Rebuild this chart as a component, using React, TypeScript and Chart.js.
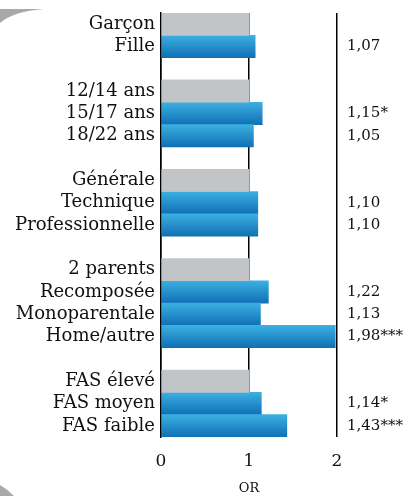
import React, { useEffect, useRef } from "react";
import { Chart, registerables } from "chart.js";

Chart.register(...registerables);

const categories = [
  "Garçon", "Fille", "",
  "12/14 ans", "15/17 ans", "18/22 ans", "",
  "Générale", "Technique", "Professionnelle", "",
  "2 parents", "Recomposée", "Monoparentale", "Home/autre", "",
  "FAS élevé", "FAS moyen", "FAS faible",
];

const referenceValues = [
  1, null, null,
  1, null, null, null,
  1, null, null, null,
  1, null, null, null, null,
  1, null, null,
];

const oddsValues = [
  null, 1.07, null,
  null, 1.15, 1.05, null,
  null, 1.1, 1.1, null,
  null, 1.22, 1.13, 1.98, null,
  null, 1.14, 1.43,
];

const valueLabels = [
  "", "1,07", "",
  "", "1,15*", "1,05", "",
  "", "1,10", "1,10", "",
  "", "1,22", "1,13", "1,98***", "",
  "", "1,14*", "1,43***",
];

const xTicks = [0, 1, 2];

const SERIF = "'DejaVu Serif', 'Liberation Serif', serif";

export default function App() {
  const ref = useRef<HTMLCanvasElement | null>(null);

  useEffect(() => {
    const canvas = ref.current;
    if (!canvas) return;

    const decoPlugin = {
      id: "deco",
      beforeDraw(chart: any) {
        const ctx = chart.ctx;
        ctx.save();
        ctx.fillStyle = "#a9a9a5";
        ctx.beginPath();
        ctx.moveTo(0, 9);
        ctx.lineTo(44, 9);
        ctx.quadraticCurveTo(14, 11, 0, 23);
        ctx.closePath();
        ctx.fill();
        ctx.beginPath();
        ctx.moveTo(0, 485);
        ctx.quadraticCurveTo(7, 489, 14, 496);
        ctx.lineTo(0, 496);
        ctx.closePath();
        ctx.fill();
        ctx.restore();
      },
    };

    const blueGradient = (context: any) => {
      const chart = context.chart;
      const y = chart.scales?.y;
      if (!y || context.dataIndex === undefined) return "#2a93d2";
      const c = y.getPixelForValue(context.dataIndex);
      const h = y.height / categories.length;
      if (!isFinite(c) || !isFinite(h) || h <= 0) return "#2a93d2";
      const g = chart.ctx.createLinearGradient(0, c - h / 2, 0, c + h / 2);
      g.addColorStop(0, "#3cb0e2");
      g.addColorStop(1, "#1070b4");
      return g;
    };

    const noVerticalPadding = (scale: any, w: number) => {
      scale.width = w;
      scale.paddingTop = 0;
      scale.paddingBottom = 0;
    };

    const chart = new Chart(canvas, {
      type: "bar",
      data: {
        labels: categories,
        datasets: [
          {
            data: referenceValues as any,
            backgroundColor: "#c2c5c7",
            barPercentage: 1,
            categoryPercentage: 1,
            grouped: false,
            yAxisID: "y",
          },
          {
            data: oddsValues as any,
            backgroundColor: blueGradient as any,
            barPercentage: 1,
            categoryPercentage: 1,
            grouped: false,
            yAxisID: "y",
          },
        ],
      },
      options: {
        indexAxis: "y",
        animation: false,
        responsive: false,
        maintainAspectRatio: false,
        layout: { padding: { top: 13, left: 0, right: 0, bottom: 0 } },
        plugins: {
          legend: { display: false },
          tooltip: { enabled: false },
        },
        scales: {
          x: {
            type: "linear",
            min: 0,
            max: 2,
            afterBuildTicks: (scale: any) => {
              scale.ticks = xTicks.map((v) => ({ value: v }));
            },
            afterFit: (scale: any) => {
              scale.height = 59;
            },
            grid: {
              color: "#000",
              lineWidth: 1.5,
              drawTicks: false,
            },
            border: { display: false },
            ticks: {
              color: "#111",
              font: { family: SERIF, size: 17 },
              padding: 14,
              callback: (v: any) => String(v),
            },
            title: {
              display: true,
              text: "OR",
              color: "#111",
              font: { family: SERIF, size: 13 },
              padding: { top: 5, bottom: 0 },
            },
          },
          y: {
            type: "category",
            position: "left",
            afterFit: (scale: any) => noVerticalPadding(scale, 161),
            grid: { display: false, drawTicks: false },
            border: { display: true, color: "#000", width: 1.5 },
            ticks: {
              color: "#111",
              font: { family: SERIF, size: 18 },
              padding: 6,
              autoSkip: false,
            },
          },
          y2: {
            type: "category",
            position: "right",
            labels: valueLabels,
            afterFit: (scale: any) => noVerticalPadding(scale, 69),
            grid: { display: false, drawTicks: false },
            border: { display: false },
            ticks: {
              color: "#111",
              font: { family: SERIF, size: 15 },
              padding: 10,
              autoSkip: false,
            },
          },
        },
      },
      plugins: [decoPlugin],
    });

    return () => chart.destroy();
  }, []);

  return (
    <div style={{ position: "fixed", left: 0, top: 0, width: 406, height: 496, background: "#fff" }}>
      <canvas ref={ref} width={406} height={496} style={{ display: "block" }} />
    </div>
  );
}
